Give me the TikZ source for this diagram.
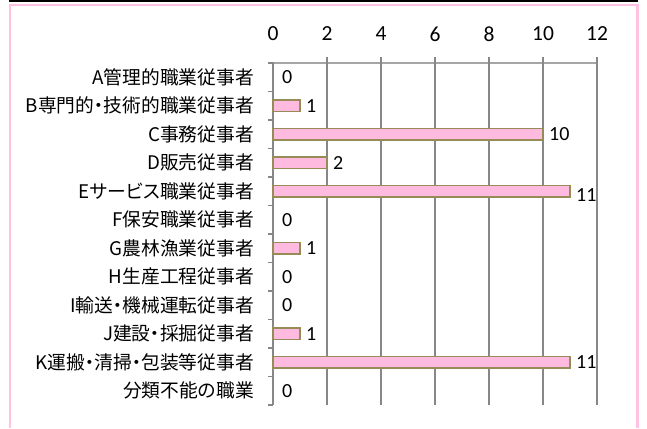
\documentclass[tikz,border=0pt]{standalone}
\usepackage{fontspec}
\setmainfont{Carlito}
\newfontfamily\jpfont[RawFeature=+palt]{Noto Sans CJK JP}
\definecolor{barfill}{RGB}{255,186,224}
\definecolor{barline}{RGB}{150,140,88}
\definecolor{framepink}{RGB}{255,194,226}
\begin{document}
\begin{tikzpicture}[x=1bp,y=-1bp,
  grid line/.style={draw=black!47,line width=1.6bp},
  axis line/.style={draw=black!35,line width=1.3bp},
  bar/.style={draw=barline,fill=barfill,line width=1.4bp},
  cat label/.style={anchor=east,inner sep=0pt,font=\jpfont\fontsize{18.75bp}{18.75bp}\selectfont},
  val label/.style={anchor=west,inner sep=0pt,font=\fontsize{20bp}{20bp}\selectfont},
  tick label/.style={inner sep=0pt,font=\fontsize{21.5bp}{21.5bp}\selectfont}
  ]
  \useasboundingbox (0,0) rectangle (647,428);

  % frame
  \draw[line width=1.6bp] (9,0.8) -- (638,0.8);
  \draw[framepink,line width=2.2bp] (9.6,428) -- (9.6,5) -- (637.4,5) -- (637.4,428);

  % value axis
  \draw[axis line] (268,63) -- (597,63);
  \foreach \k in {0,...,6}{
    \node[tick label] (t\k) at (273+54*\k,34) {\the\numexpr2*\k\relax};
    \ifnum\k>0 \draw[grid line] (273+54*\k,57) -- (273+54*\k,405); \fi
  }

  % category axis
  \draw[grid line] (273,62) -- (273,405);
  \foreach \k in {0,...,12}
    \draw[grid line] (268,63+28.5*\k) -- (273,63+28.5*\k);

  % bars
  \foreach \name/\val/\dy [count=\i] in {
      A管理的職業従事者/0/0,
      B専門的・技術的職業従事者/1/0,
      C事務従事者/10/0,
      D販売従事者/2/0,
      Eサービス職業従事者/11/4,
      F保安職業従事者/0/0,
      G農林漁業従事者/1/0,
      H生産工程従事者/0/0,
      I輸送・機械運転従事者/0/0,
      J建設・採掘従事者/1/0,
      K運搬・清掃・包装等従事者/11/0,
      分類不能の職業/0/0}{
    \pgfmathsetmacro\yc{63+28.5*(\i-0.5)}
    \node[cat label] (cat\i) at (254,\yc) {\name};
    \ifnum\val>0 \draw[bar] (273,\yc-5.7) rectangle (273+27*\val,\yc+5.7); \fi
    \node[val label] (val\i) at (273+27*\val+6+\ifnum\val=0 3\else 0\fi,\yc+\dy) {\val};
  }
\end{tikzpicture}
\end{document}
